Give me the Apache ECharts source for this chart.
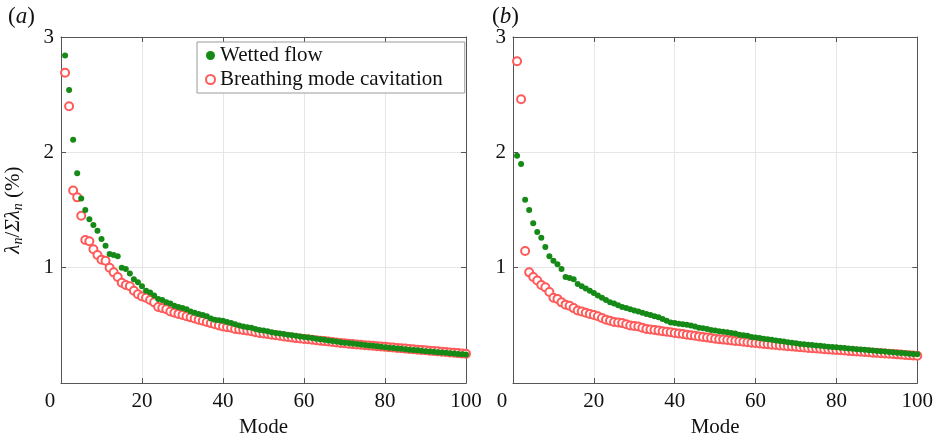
<!DOCTYPE html>
<html>
<head>
<meta charset="utf-8">
<script src="https://cdn.jsdelivr.net/npm/echarts@6/dist/echarts.min.js"></script>
<style>
  html, body { margin: 0; padding: 0; background: #fff; }
  #chart { width: 936px; height: 443px; }
</style>
</head>
<body>
<div id="chart"></div>
<script>
// values, modes 1..100
var wettedA = [2.84, 2.54, 2.11, 1.82, 1.60, 1.50, 1.42, 1.37, 1.32, 1.25,
  1.19, 1.12, 1.11, 1.10, 1.00, 0.99, 0.95, 0.90, 0.875, 0.84,
  0.80, 0.785, 0.76, 0.73, 0.72, 0.70, 0.69, 0.67, 0.66, 0.65,
  0.64, 0.62, 0.61, 0.60, 0.59, 0.58, 0.56, 0.55, 0.545, 0.54,
  0.53, 0.52, 0.51, 0.50, 0.49, 0.485, 0.48, 0.47, 0.46, 0.455,
  0.45, 0.44, 0.435, 0.43, 0.425, 0.42, 0.415, 0.41, 0.405, 0.40,
  0.395, 0.39, 0.385, 0.38, 0.375, 0.37, 0.365, 0.36, 0.355, 0.35,
  0.347, 0.343, 0.34, 0.335, 0.331, 0.327, 0.323, 0.319, 0.315, 0.311,
  0.307, 0.304, 0.30, 0.297, 0.293, 0.29, 0.287, 0.284, 0.28, 0.277,
  0.274, 0.271, 0.268, 0.265, 0.262, 0.259, 0.256, 0.253, 0.25, 0.247];
var breathingA = [2.69, 2.40, 1.67, 1.61, 1.45, 1.24, 1.23, 1.16, 1.11, 1.07,
  1.06, 1.00, 0.96, 0.92, 0.87, 0.85, 0.84, 0.80, 0.77, 0.75,
  0.74, 0.72, 0.70, 0.66, 0.65, 0.64, 0.62, 0.61, 0.60, 0.59,
  0.58, 0.57, 0.56, 0.55, 0.54, 0.53, 0.52, 0.51, 0.50, 0.49,
  0.485, 0.48, 0.47, 0.465, 0.46, 0.455, 0.45, 0.44, 0.435, 0.43,
  0.425, 0.42, 0.415, 0.41, 0.405, 0.40, 0.395, 0.39, 0.387, 0.383,
  0.38, 0.376, 0.372, 0.368, 0.364, 0.36, 0.356, 0.352, 0.348, 0.345,
  0.341, 0.338, 0.335, 0.332, 0.329, 0.326, 0.323, 0.32, 0.317, 0.314,
  0.311, 0.308, 0.305, 0.302, 0.299, 0.296, 0.293, 0.29, 0.287, 0.284,
  0.281, 0.278, 0.275, 0.272, 0.269, 0.266, 0.263, 0.26, 0.257, 0.254];
var wettedB = [1.97, 1.90, 1.59, 1.50, 1.385, 1.31, 1.26, 1.18, 1.10, 1.06,
  1.03, 0.99, 0.92, 0.91, 0.90, 0.86, 0.84, 0.82, 0.80, 0.78,
  0.76, 0.74, 0.72, 0.70, 0.69, 0.675, 0.66, 0.65, 0.64, 0.63,
  0.62, 0.61, 0.60, 0.59, 0.58, 0.57, 0.555, 0.54, 0.525, 0.52,
  0.515, 0.51, 0.505, 0.50, 0.49, 0.48, 0.475, 0.47, 0.46, 0.455,
  0.45, 0.445, 0.44, 0.435, 0.43, 0.42, 0.415, 0.41, 0.40, 0.395,
  0.39, 0.385, 0.38, 0.375, 0.37, 0.365, 0.36, 0.355, 0.35, 0.345,
  0.34, 0.337, 0.333, 0.33, 0.326, 0.323, 0.32, 0.316, 0.313, 0.31,
  0.307, 0.304, 0.30, 0.297, 0.294, 0.291, 0.288, 0.285, 0.282, 0.279,
  0.276, 0.273, 0.27, 0.267, 0.264, 0.261, 0.258, 0.255, 0.252, 0.25];
var breathingB = [2.79, 2.46, 1.145, 0.96, 0.92, 0.89, 0.85, 0.83, 0.79, 0.74,
  0.73, 0.70, 0.68, 0.67, 0.65, 0.63, 0.62, 0.61, 0.60, 0.59,
  0.58, 0.565, 0.55, 0.54, 0.53, 0.525, 0.52, 0.51, 0.50, 0.495,
  0.49, 0.48, 0.47, 0.465, 0.46, 0.455, 0.45, 0.445, 0.44, 0.435,
  0.43, 0.425, 0.42, 0.415, 0.41, 0.405, 0.40, 0.395, 0.39, 0.385,
  0.38, 0.377, 0.373, 0.37, 0.366, 0.362, 0.358, 0.354, 0.35, 0.347,
  0.343, 0.34, 0.336, 0.333, 0.33, 0.326, 0.323, 0.32, 0.317, 0.314,
  0.311, 0.308, 0.305, 0.302, 0.30, 0.297, 0.294, 0.292, 0.289, 0.287,
  0.284, 0.282, 0.279, 0.277, 0.274, 0.272, 0.269, 0.267, 0.264, 0.262,
  0.259, 0.257, 0.254, 0.252, 0.249, 0.247, 0.244, 0.242, 0.239, 0.237];

var seriesNames = ['Wetted flow', 'Breathing mode cavitation'];
var panelLabels = ['a', 'b'];
var xTicks = [0, 20, 40, 60, 80, 100];
var yTicks = [0, 1, 2, 3];

var FONT = '"Liberation Serif", "DejaVu Serif", serif';
var GREEN = '#168a16';
var RED = '#ff5a5a';
var AXIS = '#555';

function pairs(arr) {
  return arr.map(function (v, i) { return [i + 1, v]; });
}

var dom = document.getElementById('chart');
var myChart = echarts.init(dom, null, { renderer: 'canvas' });

var grids = [
  { left: 61, right: 470, top: 37, bottom: 54 },
  { left: 513, right: 17, top: 37, bottom: 54 }
];

var xAxes = [];
var yAxes = [];
grids.forEach(function (g, i) {
  xAxes.push({
    type: 'value', gridIndex: i,
    min: xTicks[0], max: xTicks[xTicks.length - 1], interval: 20,
    name: 'Mode', nameLocation: 'middle', nameGap: 33,
    nameTextStyle: { fontFamily: FONT, fontSize: 21, color: '#111' },
    axisLine: { onZero: false, lineStyle: { color: AXIS } },
    axisTick: { inside: true, length: 5, lineStyle: { color: AXIS } },
    axisLabel: {
      fontFamily: FONT, fontSize: 21, color: '#111', margin: 8,
      formatter: function (v) { return v === 0 ? '{z|0}' : String(v); },
      rich: { z: { fontFamily: FONT, fontSize: 21, color: '#111', padding: [0, 22, 0, 0] } }
    },
    splitLine: { show: true, lineStyle: { color: '#e6e6e6' } }
  });
  xAxes.push({
    type: 'value', gridIndex: i, position: 'top',
    min: xTicks[0], max: xTicks[xTicks.length - 1], interval: 20,
    axisLine: { onZero: false, lineStyle: { color: AXIS } },
    axisTick: { inside: true, length: 5, lineStyle: { color: AXIS } },
    axisLabel: { show: false },
    splitLine: { show: false }
  });
  yAxes.push({
    type: 'value', gridIndex: i,
    min: yTicks[0], max: yTicks[yTicks.length - 1], interval: 1,
    name: i === 0 ? '{i|λ}{s|n}{r|/}{i|Σλ}{s|n}{r| (%)}' : '',
    nameLocation: 'middle', nameGap: 36,
    nameTextStyle: {
      rich: {
        i: { fontFamily: FONT, fontSize: 21, fontStyle: 'italic', color: '#111' },
        s: { fontFamily: FONT, fontSize: 14, fontStyle: 'italic', color: '#111', verticalAlign: 'bottom', padding: [10, 0, 0, 0] },
        r: { fontFamily: FONT, fontSize: 21, color: '#111' }
      }
    },
    axisLine: { show: true, onZero: false, lineStyle: { color: AXIS } },
    axisTick: { show: true, inside: true, length: 5, lineStyle: { color: AXIS } },
    axisLabel: {
      fontFamily: FONT, fontSize: 21, color: '#111', margin: 7,
      formatter: function (v) { return v === 0 ? '' : String(v); }
    },
    splitLine: { show: true, lineStyle: { color: '#e6e6e6' } }
  });
  yAxes.push({
    type: 'value', gridIndex: i, position: 'right',
    min: yTicks[0], max: yTicks[yTicks.length - 1], interval: 1,
    axisLine: { show: true, onZero: false, lineStyle: { color: AXIS } },
    axisTick: { show: true, inside: true, length: 5, lineStyle: { color: AXIS } },
    axisLabel: { show: false },
    splitLine: { show: false }
  });
});

function wetSeries(data, gi) {
  return {
    name: seriesNames[0], type: 'scatter',
    xAxisIndex: gi * 2, yAxisIndex: gi * 2,
    symbol: 'circle', symbolSize: 6,
    itemStyle: { color: GREEN, opacity: 1 },
    data: pairs(data), z: 3
  };
}
function breathSeries(data, gi) {
  return {
    name: seriesNames[1], type: 'scatter',
    xAxisIndex: gi * 2, yAxisIndex: gi * 2,
    symbol: 'emptyCircle', symbolSize: 8,
    itemStyle: { color: RED, borderColor: RED, borderWidth: 1, opacity: 1 },
    data: pairs(data), z: 2
  };
}

var option = {
  animation: false,
  backgroundColor: '#fff',
  title: panelLabels.map(function (p, i) {
    return {
      text: '{r|(}{i|' + p + '}{r|)}',
      left: i === 0 ? 3 : 487, top: 0,
      textStyle: {
        fontWeight: 'normal',
        rich: {
          r: { fontFamily: FONT, fontSize: 23, fontWeight: 'normal', color: '#111' },
          i: { fontFamily: FONT, fontSize: 23, fontWeight: 'normal', fontStyle: 'italic', color: '#111' }
        }
      }
    };
  }),
  legend: {
    data: seriesNames,
    orient: 'vertical',
    left: 197, top: 42,
    padding: [3, 22, 3, 8],
    itemGap: 3,
    itemWidth: 9, itemHeight: 9,
    backgroundColor: '#fff',
    borderColor: '#9a9a9a', borderWidth: 1, borderRadius: 0,
    textStyle: { fontFamily: FONT, fontSize: 21, color: '#111' }
  },
  grid: grids,
  xAxis: xAxes,
  yAxis: yAxes,
  series: [
    breathSeries(breathingA, 0),
    wetSeries(wettedA, 0),
    breathSeries(breathingB, 1),
    wetSeries(wettedB, 1)
  ]
};

if (option && typeof option === 'object') {
  myChart.setOption(option);
}

window.addEventListener('resize', myChart.resize);
</script>
</body>
</html>
